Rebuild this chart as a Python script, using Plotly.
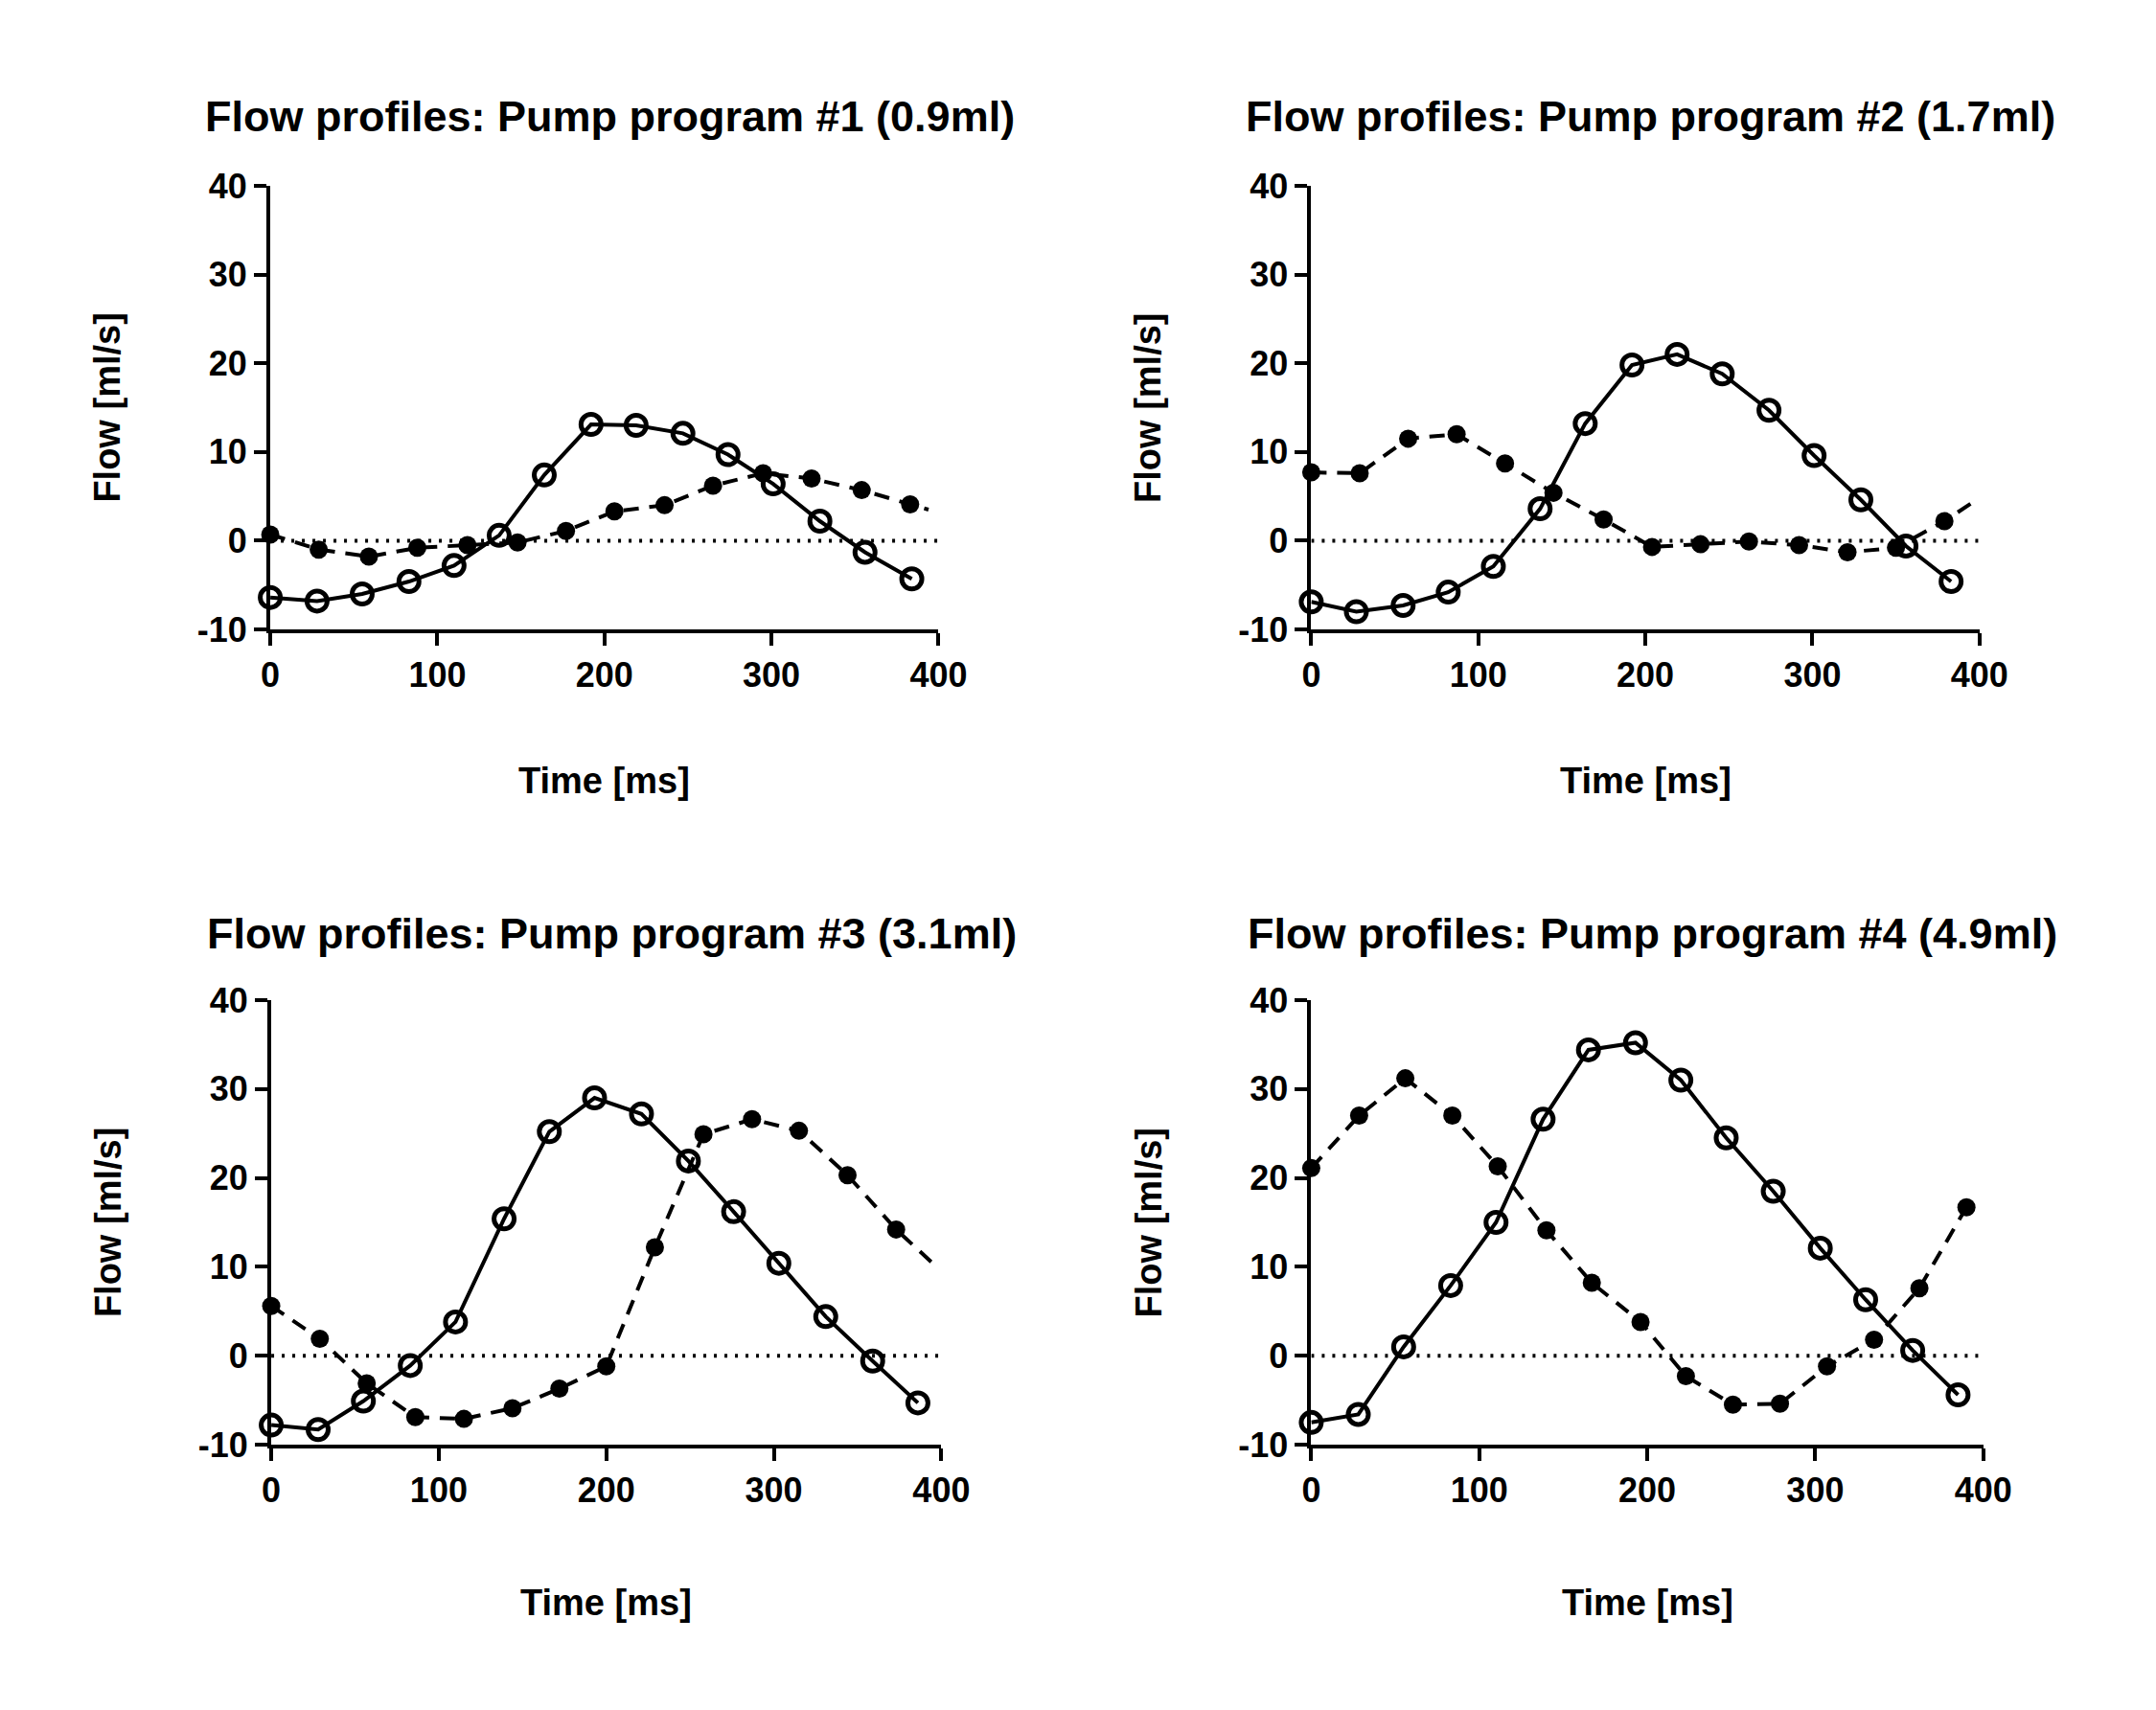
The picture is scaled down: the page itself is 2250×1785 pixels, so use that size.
import plotly.graph_objects as go

# ---------------- data ----------------
titles = [
    "Flow profiles: Pump program #1 (0.9ml)",
    "Flow profiles: Pump program #2 (1.7ml)",
    "Flow profiles: Pump program #3 (3.1ml)",
    "Flow profiles: Pump program #4 (4.9ml)",
]
x_title = "Time [ms]"
y_title = "Flow [ml/s]"
x_ticks = [0, 100, 200, 300, 400]
y_ticks = [-10, 0, 10, 20, 30, 40]

# open circles, solid line
p1_open_x = [0, 28, 55, 83, 110, 137, 164, 192, 219, 247, 274, 301, 329, 356, 384]
p1_open_y = [-6.4, -6.8, -6.0, -4.6, -2.8, 0.6, 7.4, 13.1, 13.0, 12.1, 9.7, 6.4, 2.2, -1.3, -4.3]
p2_open_x = [0, 27, 55, 82, 109, 137, 164, 192, 219, 246, 274, 301, 329, 356, 383]
p2_open_y = [-6.9, -8.0, -7.3, -5.8, -2.9, 3.6, 13.2, 19.8, 21.0, 18.8, 14.7, 9.6, 4.6, -0.6, -4.6]
p3_open_x = [0, 28, 55, 83, 110, 139, 166, 193, 221, 249, 276, 303, 331, 359, 386]
p3_open_y = [-7.8, -8.3, -5.1, -1.1, 3.8, 15.4, 25.2, 29.0, 27.2, 21.9, 16.2, 10.4, 4.4, -0.6, -5.3]
p4_open_x = [0, 28, 55, 83, 110, 138, 165, 193, 220, 247, 275, 303, 330, 358, 385]
p4_open_y = [-7.5, -6.6, 1.0, 7.9, 15.0, 26.6, 34.4, 35.2, 31.0, 24.5, 18.5, 12.1, 6.3, 0.6, -4.4]

# filled circles, dashed line (last point of #1-#3 is where the line ends, no symbol)
p1_fill_x = [0, 29, 59, 88, 118, 148, 177, 206, 236, 265, 295, 324, 354, 383, 394]
p1_fill_y = [0.7, -1.0, -1.8, -0.8, -0.5, -0.2, 1.1, 3.3, 4.0, 6.2, 7.6, 7.0, 5.7, 4.1, 3.5]
p2_fill_x = [0, 29, 58, 87, 116, 145, 175, 204, 233, 262, 292, 321, 350, 379, 399]
p2_fill_y = [7.7, 7.6, 11.5, 12.0, 8.7, 5.4, 2.4, -0.7, -0.4, -0.1, -0.5, -1.3, -0.8, 2.2, 4.7]
p3_fill_x = [0, 29, 57, 86, 115, 144, 172, 200, 229, 258, 287, 315, 344, 373, 396]
p3_fill_y = [5.6, 1.9, -3.1, -6.9, -7.1, -5.9, -3.7, -1.2, 12.2, 24.9, 26.6, 25.3, 20.3, 14.2, 10.2]
p4_fill_x = [0, 28.5, 56, 84, 111, 140, 167, 196, 223, 251, 279, 307, 335, 362, 390]
p4_fill_y = [21.1, 27.0, 31.2, 27.0, 21.3, 14.1, 8.2, 3.8, -2.3, -5.5, -5.4, -1.2, 1.8, 7.6, 16.7]
fill_has_line_end = [True, True, True, False]

open_x = [p1_open_x, p2_open_x, p3_open_x, p4_open_x]
open_y = [p1_open_y, p2_open_y, p3_open_y, p4_open_y]
fill_x = [p1_fill_x, p2_fill_x, p3_fill_x, p4_fill_x]
fill_y = [p1_fill_y, p2_fill_y, p3_fill_y, p4_fill_y]

# ---------------- layout geometry (pixels of a 2250x1785 page) ----------------
W, H = 2250, 1785
FONT = "Liberation Sans, Arial, Helvetica, sans-serif"
panels = [  # x0, x1, ytop(40), ybottom(-10) in pixels from top-left
    (277, 987, 178, 652),
    (1383, 2093, 178, 652),
    (278, 990, 1048, 1523),
    (1383, 2097, 1048, 1523),
]
title_y = [104, 104, 977, 977]
xt_y = [814, 814, 1692, 1692]

fig = go.Figure()
layout = dict(
    width=W, height=H, margin=dict(l=0, r=0, t=0, b=0),
    paper_bgcolor="white", plot_bgcolor="white", showlegend=False,
    font=dict(family=FONT, color="black"),
)
annotations = []
shapes = []

for i in range(4):
    x0, x1, yt, yb = panels[i]
    sfx = "" if i == 0 else str(i + 1)
    xa, ya = "x" + sfx, "y" + sfx
    axis_common = dict(
        showline=True, linecolor="black", linewidth=4,
        ticks="outside", ticklen=13, tickwidth=4, tickcolor="black",
        showgrid=False, zeroline=False,
        tickfont=dict(family=FONT, size=36, color="black", weight="bold"),
    )
    layout["xaxis" + sfx] = dict(
        domain=[x0 / W, x1 / W], anchor=ya, range=[0, 400],
        tickvals=x_ticks, ticktext=[str(v) for v in x_ticks], **axis_common)
    layout["yaxis" + sfx] = dict(
        domain=[1 - yb / H, 1 - yt / H], anchor=xa, range=[-10, 40],
        tickvals=y_ticks, ticktext=[str(v) for v in y_ticks], **axis_common)

    # dotted zero line
    shapes.append(dict(type="line", xref=xa, yref=ya, x0=0, x1=400, y0=0, y1=0,
                       line=dict(color="black", width=4, dash="3px,8px"), layer="below"))

    # filled circles, dashed
    n = len(fill_x[i])
    sizes = [19] * n
    if fill_has_line_end[i]:
        sizes[-1] = 0
    fig.add_trace(go.Scatter(
        x=fill_x[i], y=fill_y[i], xaxis=xa, yaxis=ya, mode="lines+markers",
        line=dict(color="black", width=4, dash="16px,11px"),
        marker=dict(symbol="circle", size=sizes, color="black", opacity=1,
                    line=dict(color="black", width=0)),
        opacity=1, cliponaxis=False, hoverinfo="skip"))

    # open circles, solid
    fig.add_trace(go.Scatter(
        x=open_x[i], y=open_y[i], xaxis=xa, yaxis=ya, mode="lines+markers",
        line=dict(color="black", width=4),
        marker=dict(symbol="circle-open", size=21, color="black", opacity=1,
                    line=dict(color="black", width=5)),
        opacity=1, cliponaxis=False, hoverinfo="skip"))

    cx = (x0 + x1) / 2 + 6
    annotations.append(dict(
        text=titles[i], xref="paper", yref="paper", x=cx / W, y=1 - title_y[i] / H,
        xanchor="center", yanchor="middle", showarrow=False,
        font=dict(family=FONT, size=45, color="black", weight="bold")))
    annotations.append(dict(
        text=x_title, xref="paper", yref="paper", x=(x0 + x1) / 2 / W, y=1 - xt_y[i] / H,
        xanchor="center", yanchor="middle", showarrow=False,
        font=dict(family=FONT, size=38, color="black", weight="bold")))
    annotations.append(dict(
        text=y_title, xref="paper", yref="paper", x=(x0 - 173) / W, y=1 - (yt + yb) / 2 / H,
        xanchor="center", yanchor="middle", showarrow=False, textangle=-90,
        font=dict(family=FONT, size=38, color="black", weight="bold")))

layout["annotations"] = annotations
layout["shapes"] = shapes
fig.update_layout(**layout)
fig.write_html("out.html",
               config={"displayModeBar": False},
               post_script="document.body.style.margin='0';document.body.style.overflow='hidden';")
